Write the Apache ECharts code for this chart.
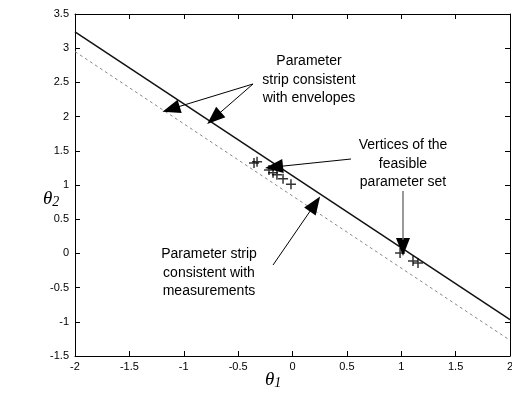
<!DOCTYPE html>
<html>
<head>
<meta charset="utf-8">
<script src="https://cdn.jsdelivr.net/npm/echarts@6/dist/echarts.min.js"></script>
<style>
  html, body { margin: 0; padding: 0; background: #fff; }
  #chart { width: 512px; height: 394px; }
</style>
</head>
<body>
<div id="chart"></div>
<script>
const xTicks = [-2, -1.5, -1, -0.5, 0, 0.5, 1, 1.5, 2];
const yTicks = [-1.5, -1, -0.5, 0, 0.5, 1, 1.5, 2, 2.5, 3, 3.5];

// strip boundaries (theta1 -> theta2)
const envelopeLine = [[-2, 3.24], [2, -0.97]];
const measurementLine = [[-2, 2.95], [2, -1.27]];

// vertices of the feasible parameter set
const vertices = [
  [-0.354, 1.32], [-0.326, 1.34], [-0.216, 1.22], [-0.179, 1.18],
  [-0.143, 1.15], [-0.087, 1.09], [-0.014, 1.01],
  [0.989, 0.006], [1.108, -0.11], [1.154, -0.14]
];

// annotation arrows [from, head centre]
const arrows = [
  [[-0.363, 2.477], [-1.117, 2.111]],
  [[-0.363, 2.477], [-0.722, 1.98]],
  [[0.538, 1.38], [-0.17, 1.263]],
  [[-0.179, -0.17], [0.207, 0.722]],
  [[1.016, 0.2], [1.016, 0.094]]
];
const grayStem = [[1.016, 0.912], [1.016, 0.2]];

const plusPath = 'path://M5,0 L5,10 M0,5 L10,5';

const chart = echarts.init(document.getElementById('chart'));

const textStyle = { fontFamily: 'Liberation Sans, Arial', fontSize: 14, fill: '#000', align: 'center', lineHeight: 18.5 };

function arrowLine(pair) {
  return [
    { coord: pair[0], symbol: 'none' },
    { coord: pair[1], symbol: 'triangle', symbolSize: [14, 18] }
  ];
}

function thetaLabel(x, y, sub) {
  return {
    type: 'text', x: x, y: y,
    style: {
      text: '{a|θ}{b|' + sub + '}',
      rich: {
        a: { fontFamily: 'Liberation Serif, Times New Roman', fontStyle: 'italic', fontSize: 19, fill: '#000' },
        b: { fontFamily: 'Liberation Serif, Times New Roman', fontStyle: 'italic', fontSize: 14, fill: '#000', padding: [7, 0, 0, 0] }
      }
    }
  };
}

chart.setOption({
  animation: false,
  grid: { left: 75, right: 2, top: 14, bottom: 38, outerBoundsMode: 'none' },
  xAxis: [
    {
      type: 'value', min: -2, max: 2, interval: 0.5,
      axisLine: { onZero: false, lineStyle: { color: '#000', width: 1 } },
      axisTick: { inside: true, length: 5, lineStyle: { color: '#000' } },
      axisLabel: {
        margin: 5, color: '#000', fontSize: 11, fontFamily: 'Liberation Sans, Arial',
        hideOverlap: false, formatter: v => String(v)
      },
      splitLine: { show: false }
    },
    {
      type: 'value', position: 'top', min: -2, max: 2, interval: 0.5,
      axisLine: { onZero: false, lineStyle: { color: '#000', width: 1 } },
      axisTick: { inside: true, length: 5, lineStyle: { color: '#000' } },
      axisLabel: { show: false },
      splitLine: { show: false }
    }
  ],
  yAxis: [
    {
      type: 'value', min: -1.5, max: 3.5, interval: 0.5,
      axisLine: { onZero: false, lineStyle: { color: '#000', width: 1 } },
      axisTick: { inside: true, length: 5, lineStyle: { color: '#000' } },
      axisLabel: {
        margin: 6, color: '#000', fontSize: 11, fontFamily: 'Liberation Sans, Arial',
        hideOverlap: false, formatter: v => String(v)
      },
      splitLine: { show: false }
    },
    {
      type: 'value', position: 'right', min: -1.5, max: 3.5, interval: 0.5,
      axisLine: { onZero: false, lineStyle: { color: '#000', width: 1 } },
      axisTick: { inside: true, length: 5, lineStyle: { color: '#000' } },
      axisLabel: { show: false },
      splitLine: { show: false }
    }
  ],
  series: [
    {
      type: 'line', data: measurementLine, symbol: 'none',
      lineStyle: { color: '#888', width: 1, type: [3, 3] }
    },
    {
      type: 'line', data: envelopeLine, symbol: 'none',
      lineStyle: { color: '#111', width: 1.5 }
    },
    {
      type: 'scatter', data: vertices, symbol: plusPath, symbolSize: 10,
      itemStyle: { color: 'none', borderColor: '#000', borderWidth: 1.5 },
      z: 3
    },
    {
      type: 'line', data: [], symbol: 'none',
      markLine: {
        silent: true, animation: false,
        lineStyle: { color: '#000', width: 1, type: 'solid' },
        label: { show: false },
        emphasis: { disabled: true },
        data: arrows.map(arrowLine)
      }
    },
    {
      type: 'line', data: [], symbol: 'none',
      markLine: {
        silent: true, animation: false, symbol: 'none',
        lineStyle: { color: '#777', width: 1.5, type: 'solid' },
        label: { show: false },
        emphasis: { disabled: true },
        data: [[{ coord: grayStem[0] }, { coord: grayStem[1] }]]
      }
    }
  ],
  graphic: [
    { type: 'text', x: 309, y: 52, style: Object.assign({ text: 'Parameter\nstrip consistent\nwith envelopes' }, textStyle) },
    { type: 'text', x: 403, y: 136, style: Object.assign({ text: 'Vertices of the\nfeasible\nparameter set' }, textStyle) },
    { type: 'text', x: 209, y: 245, style: Object.assign({ text: 'Parameter strip\nconsistent with\nmeasurements' }, textStyle) },
    thetaLabel(43, 188, '2'),
    thetaLabel(265, 369, '1')
  ]
});
</script>
</body>
</html>
